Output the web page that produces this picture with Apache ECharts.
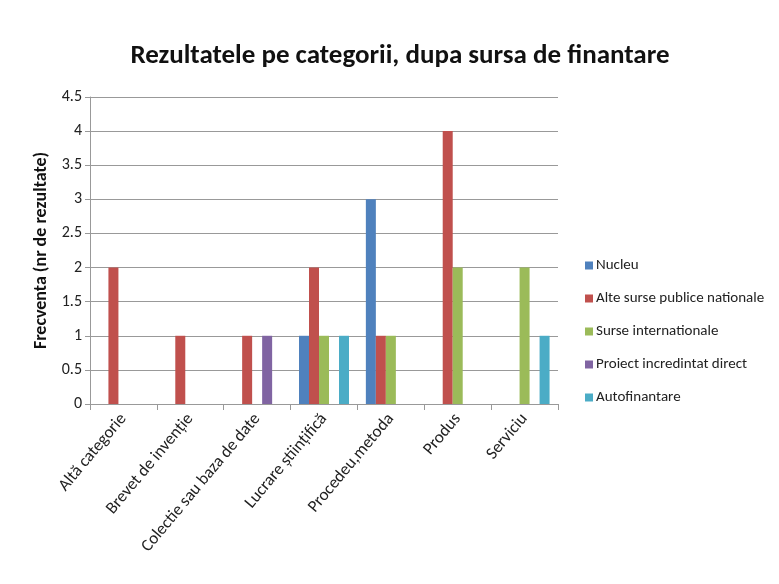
<!DOCTYPE html>
<html>
<head>
<meta charset="utf-8">
<script src="https://cdn.jsdelivr.net/npm/echarts@6/dist/echarts.min.js"></script>
<style>
html, body { margin: 0; padding: 0; background: #fff; }
#chart { width: 779px; height: 584px; }
</style>
</head>
<body>
<div id="chart"></div>
<script>
// categorii si serii
var categories = ['Altă categorie', 'Brevet de invenție', 'Colectie sau baza de date',
	'Lucrare științifică', 'Procedeu,metoda', 'Produs', 'Serviciu'];
var nucleu = [0, 0, 0, 1, 3, 0, 0];
var alteSurse = [2, 1, 1, 2, 1, 4, 0];
var surseInt = [0, 0, 0, 1, 1, 2, 2];
var proiectDirect = [0, 0, 1, 0, 0, 0, 0];
var autofinantare = [0, 0, 0, 1, 0, 0, 1];
var seriesNames = ['Nucleu', 'Alte surse publice nationale', 'Surse internationale',
	'Proiect incredintat direct', 'Autofinantare'];
var colors = ['#4F81BD', '#C0504D', '#9BBB59', '#8064A2', '#4BACC6'];

var font = "Calibri, Carlito, 'Liberation Sans Narrow', 'Open Sans', sans-serif";
var chart = echarts.init(document.getElementById('chart'));

function bar(i, data) {
	return {
		name: seriesNames[i],
		type: 'bar',
		data: data,
		barWidth: 10,
		barGap: '0%',
		itemStyle: { color: colors[i] }
	};
}

var option = {
	backgroundColor: '#fff',
	animation: false,
	title: {
		text: 'Rezultatele pe categorii, dupa sursa de finantare',
		left: 395,
		textAlign: 'center',
		top: 38,
		textStyle: { fontFamily: font, fontSize: 27, fontWeight: 'bold', color: '#111' }
	},
	legend: {
		orient: 'vertical',
		left: 580,
		top: 253,
		itemGap: 18,
		itemWidth: 8,
		itemHeight: 8,
		icon: 'rect',
		data: seriesNames,
		textStyle: { fontFamily: font, fontSize: 15, color: '#222', padding: [0, 0, 0, -2] }
	},
	grid: { left: 90, right: 221, top: 97, bottom: 180 },
	xAxis: {
		type: 'category',
		data: categories,
		axisLine: { lineStyle: { color: '#999' } },
		axisTick: { show: true, alignWithLabel: false, length: 6, lineStyle: { color: '#999' } },
		axisLabel: {
			rotate: 50,
			interval: 0,
			margin: 12,
			fontFamily: font,
			fontSize: 17,
			color: '#222'
		}
	},
	yAxis: {
		type: 'value',
		min: 0,
		max: 4.5,
		interval: 0.5,
		name: 'Frecventa (nr de rezultate)',
		nameLocation: 'middle',
		nameGap: 37,
		nameTextStyle: { fontFamily: font, fontSize: 18, fontWeight: 'bold', color: '#111' },
		axisLine: { show: true, lineStyle: { color: '#999' } },
		axisTick: { show: true, length: 5, lineStyle: { color: '#999' } },
		splitLine: { lineStyle: { color: '#999' } },
		axisLabel: { fontFamily: font, fontSize: 16, color: '#222', margin: 8 }
	},
	series: [
		bar(0, nucleu),
		bar(1, alteSurse),
		bar(2, surseInt),
		bar(3, proiectDirect),
		bar(4, autofinantare)
	]
};
chart.setOption(option);
</script>
</body>
</html>
